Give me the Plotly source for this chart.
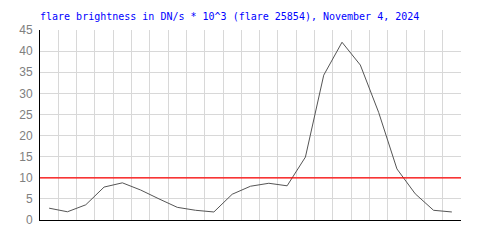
import plotly.graph_objects as go

x_pos = [i + 0.5 for i in range(23)]
brightness = [2.8, 1.95, 3.6, 7.8, 8.8, 7.1, 5.0, 3.0, 2.3, 1.9, 6.1, 8.0, 8.7, 8.1,
              14.9, 34.3, 42.1, 36.7, 25.5, 12.1, 6.2, 2.3, 1.9]
threshold = 10
y_ticks = [0, 5, 10, 15, 20, 25, 30, 35, 40, 45]
title_text = "flare brightness in DN/s * 10^3 (flare 25854), November 4, 2024"

fig = go.Figure()
fig.add_trace(go.Scatter(x=x_pos, y=brightness, mode="lines",
                         line=dict(color="#555555", width=1), hoverinfo="skip"))
fig.add_shape(type="line", xref="paper", x0=0, x1=1, yref="y", y0=threshold, y1=threshold,
              line=dict(color="#ff0000", width=1.2))

fig.update_layout(
    width=500, height=250,
    margin=dict(l=40, r=39, t=30, b=30),
    paper_bgcolor="white", plot_bgcolor="white",
    showlegend=False,
    title=dict(text=title_text, x=40/500, xanchor="left", y=1 - 16/250, yanchor="middle",
               font=dict(family="DejaVu Sans Mono", size=10, color="#0000ff")),
    xaxis=dict(range=[0, 23], dtick=1, tick0=0, showgrid=True, gridcolor="#d8d8d8",
               gridwidth=1, showticklabels=False, ticks="", showline=True,
               linecolor="black", linewidth=1, zeroline=False, mirror=False),
    yaxis=dict(range=[0, 45], tickvals=y_ticks, showgrid=True, gridcolor="#d8d8d8",
               gridwidth=1, ticks="", showline=True, linecolor="black", linewidth=1,
               zeroline=False, ticklabelstandoff=4,
               tickfont=dict(family="Liberation Sans", size=12, color="#808080")),
)
fig.write_html("out.html")
